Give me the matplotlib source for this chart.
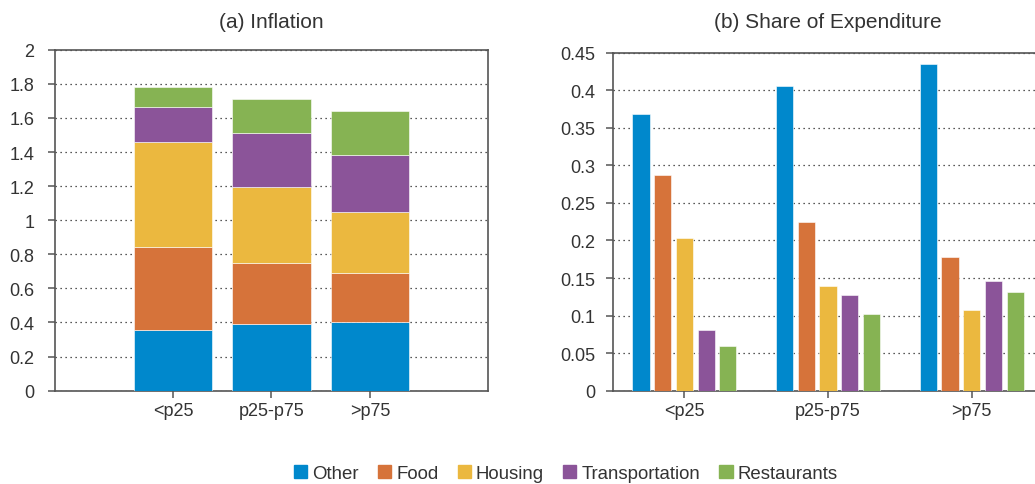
import numpy as np
import matplotlib
matplotlib.use('Agg')
import matplotlib.pyplot as plt

# данные
groups = ['<p25', 'p25-p75', '>p75']
categories = ['Other', 'Food', 'Housing', 'Transportation', 'Restaurants']
colors = ['#0088cc', '#d6733a', '#ebb83f', '#8b5499', '#86b353']

# (a) вклад в инфляцию по категориям
inflation = {
    'Other':          [0.358, 0.391, 0.405],
    'Food':           [0.487, 0.360, 0.287],
    'Housing':        [0.615, 0.442, 0.354],
    'Transportation': [0.206, 0.320, 0.338],
    'Restaurants':    [0.117, 0.200, 0.255],
}

# (b) доля расходов
share = {
    'Other':          [0.368, 0.405, 0.435],
    'Food':           [0.287, 0.225, 0.178],
    'Housing':        [0.203, 0.139, 0.108],
    'Transportation': [0.081, 0.128, 0.146],
    'Restaurants':    [0.059, 0.1025, 0.132],
}

plt.rcParams['font.family'] = ['Liberation Sans', 'DejaVu Sans']
spine_col = '#555555'
text_col = '#333333'

fig = plt.figure(figsize=(10.35, 4.85), dpi=100)
ax1 = fig.add_axes([0.0531, 0.1924, 0.4184, 0.703])
ax2 = fig.add_axes([0.5926, 0.1924, 0.415, 0.697])

x = np.arange(len(groups))

# левый график: столбцы с накоплением
bottom = np.zeros(len(groups))
for cat, col in zip(categories, colors):
    vals = np.array(inflation[cat])
    ax1.bar(x, vals, 0.8, bottom=bottom, color=col, edgecolor='white',
            linewidth=0.4, zorder=3, label=cat)
    bottom += vals
ax1.set_xlim(-1.2, 3.2)
ax1.set_ylim(0, 2)
ax1.set_yticks(np.arange(0, 2.01, 0.2))
ax1.set_yticklabels(['0', '0.2', '0.4', '0.6', '0.8', '1', '1.2', '1.4', '1.6', '1.8', '2'])
ax1.set_title('(a) Inflation', color=text_col, fontsize=15, pad=16.5)
ax1.tick_params(axis='y', pad=10)

# правый график: сгруппированные столбцы
step = 0.151
for i, (cat, col) in enumerate(zip(categories, colors)):
    ax2.bar(x + (i - 2) * step, share[cat], 0.12, color=col, edgecolor='white',
            linewidth=0.4, zorder=3)
ax2.set_xlim(-0.495, 2.495)
ax2.set_ylim(0, 0.45)
ax2.set_yticks(np.arange(0, 0.451, 0.05))
ax2.set_yticklabels(['0', '0.05', '0.1', '0.15', '0.2', '0.25', '0.3', '0.35', '0.4', '0.45'])
ax2.set_title('(b) Share of Expenditure', color=text_col, fontsize=15, pad=18.5)
ax2.tick_params(axis='y', pad=8)

for ax in (ax1, ax2):
    ax.set_xticks(x)
    ax.set_xticklabels(groups)
    ax.yaxis.grid(True, linestyle=(0, (1, 3)), color='#222222', linewidth=0.9, zorder=0)
    ax.set_axisbelow(True)
    for s in ax.spines.values():
        s.set_color(spine_col)
        s.set_linewidth(1.2)
    ax.tick_params(colors=spine_col, labelcolor=text_col, length=5, width=1.1, labelsize=13)

handles = [plt.Rectangle((0, 0), 1, 1, color=c) for c in colors]
fig.legend(handles, categories, loc='center', bbox_to_anchor=(0.5468, 0.022), ncol=5,
           frameon=False, handlelength=0.7, handleheight=0.7, handletextpad=0.27,
           columnspacing=1.04, fontsize=13.4, labelcolor=text_col)

fig.savefig('out.png', dpi=100)
